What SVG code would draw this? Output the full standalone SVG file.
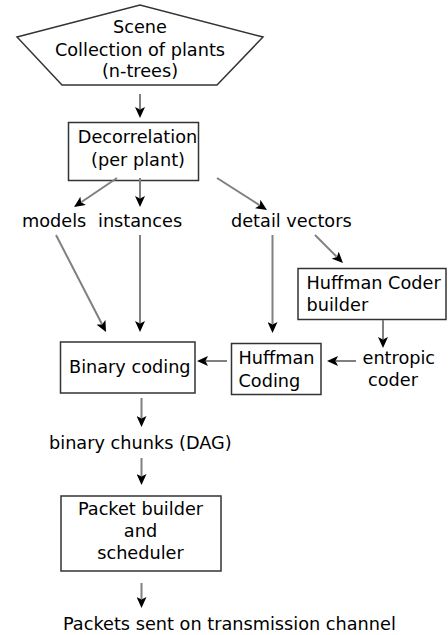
<svg xmlns="http://www.w3.org/2000/svg" width="448" height="635" viewBox="0 0 448 635">
<defs>
<marker id="ah" viewBox="0 0 11 10" refX="2" refY="5" markerWidth="11" markerHeight="10" markerUnits="userSpaceOnUse" orient="auto">
<path d="M0,0 L11,5 L0,10 L2.5,5 Z" fill="#000"/>
</marker>
<style>
text{font-family:"DejaVu Sans",sans-serif;font-size:17.7px;fill:#000}
.c{text-anchor:middle}
.box{fill:#fff;stroke:#333;stroke-width:1.5}
.ln{stroke:#808080;stroke-width:2;fill:none;marker-end:url(#ah)}
</style>
</defs>
<rect width="448" height="635" fill="#fff"/>
<g id="scene">
<polygon class="box" points="17,37 140,5 263,37 217,85 62,85"/>
<text class="c" x="140" y="33">Scene</text>
<text class="c" x="140" y="56">Collection of plants</text>
<text class="c" x="140" y="77">(n-trees)</text>
</g>
<g id="decorrelation">
<rect class="box" x="68.5" y="122.5" width="130" height="58"/>
<text class="c" x="137.5" y="143">Decorrelation</text>
<text class="c" x="138" y="166">(per plant)</text>
</g>
<g id="models"><text x="22" y="227">models</text></g>
<g id="instances"><text x="98" y="227">instances</text></g>
<g id="detail"><text x="231" y="227">detail vectors</text></g>
<g id="builder">
<rect class="box" x="298" y="268.5" width="148" height="51"/>
<text x="306.5" y="288.5">Huffman Coder</text>
<text x="306.5" y="310.5">builder</text>
</g>
<g id="entropic">
<text x="362.5" y="364">entropic</text>
<text x="368" y="386">coder</text>
</g>
<g id="huffcoding">
<rect class="box" x="231.5" y="343.5" width="89.5" height="51"/>
<text x="238.5" y="364">Huffman</text>
<text x="238.5" y="386.5">Coding</text>
</g>
<g id="binary">
<rect class="box" x="60.5" y="342" width="134.5" height="51"/>
<text x="69" y="373">Binary coding</text>
</g>
<g id="chunks"><text x="49" y="448.5">binary chunks (DAG)</text></g>
<g id="packet">
<rect class="box" x="61" y="496" width="160" height="75"/>
<text class="c" x="140.5" y="515">Packet builder</text>
<text class="c" x="140.5" y="537">and</text>
<text class="c" x="140.5" y="559">scheduler</text>
</g>
<g id="packets"><text x="63" y="629.5">Packets sent on transmission channel</text></g>
<g id="connectors">
<line class="ln" x1="140" y1="94" x2="140" y2="109"/>
<line class="ln" x1="117" y1="178" x2="81.5" y2="202"/>
<line class="ln" x1="140" y1="178" x2="140" y2="198"/>
<line class="ln" x1="217" y1="178" x2="259.4" y2="205.1"/>
<line class="ln" x1="56" y1="235" x2="101.9" y2="324"/>
<line class="ln" x1="140" y1="235" x2="140" y2="323"/>
<line class="ln" x1="272.5" y1="235" x2="272.5" y2="324"/>
<line class="ln" x1="315" y1="235" x2="336.6" y2="256.6"/>
<line class="ln" x1="383" y1="320" x2="383" y2="339"/>
<line class="ln" x1="356" y1="361" x2="336" y2="361"/>
<line class="ln" x1="227" y1="361" x2="206" y2="361"/>
<line class="ln" x1="141.5" y1="398" x2="141.5" y2="418"/>
<line class="ln" x1="141.5" y1="458" x2="141.5" y2="476"/>
<line class="ln" x1="141.5" y1="583" x2="141.5" y2="599"/>
</g>
</svg>
